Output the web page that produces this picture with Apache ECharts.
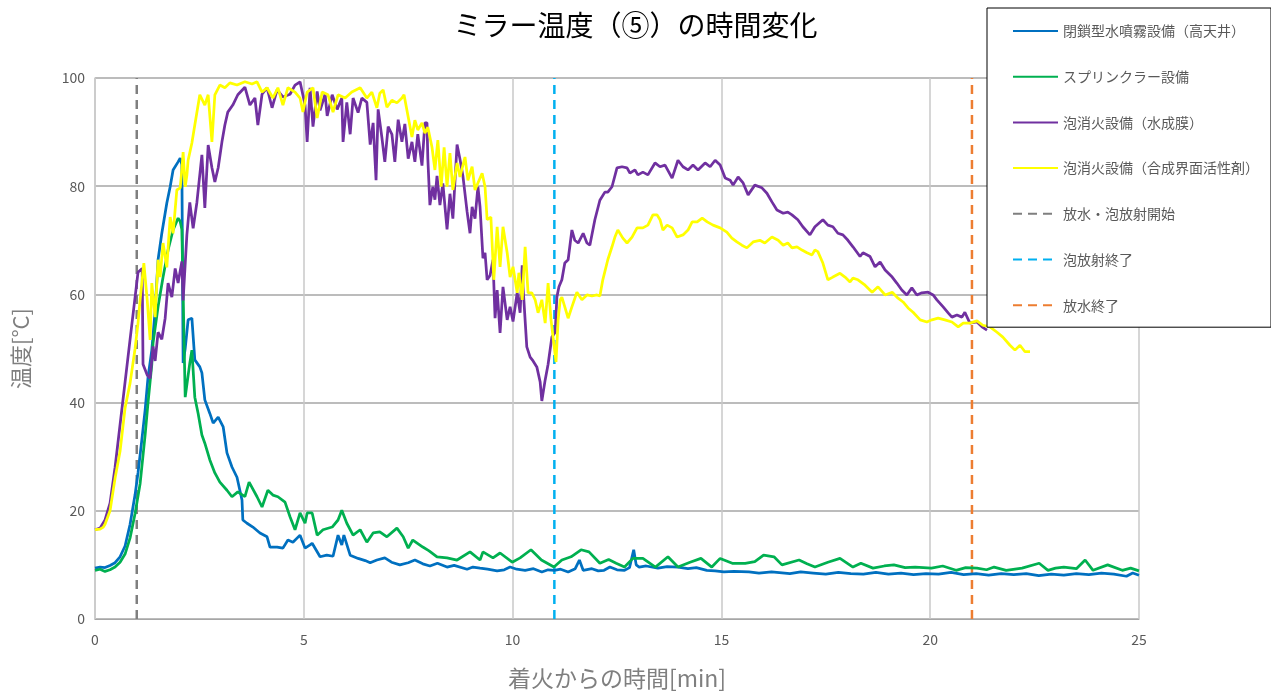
<!DOCTYPE html>
<html>
<head>
<meta charset="utf-8">
<script src="https://cdn.jsdelivr.net/npm/echarts@6/dist/echarts.min.js"></script>
<style>
  html, body { margin: 0; padding: 0; background: #fff; }
  #chart { width: 1271px; height: 693px; }
</style>
</head>
<body>
<div id="chart"></div>
<script>
// 経過時間[min] と 温度[℃] の組
const mistData = [
  [0,9.4],[0.12,9.6],[0.24,9.5],[0.36,9.9],[0.48,10.4],[0.6,11.5],[0.72,13.5],[0.84,17.5],[0.96,23],[1.03,27],
  [1.12,33],[1.2,38.6],[1.27,44.7],[1.36,49.7],[1.44,57],[1.51,66.4],[1.6,71.3],[1.72,76.9],[1.8,79.9],[1.87,83],
  [1.99,84.5],[2.04,85.2],[2.08,84],[2.11,47.3],[2.16,50],[2.23,55.3],[2.32,55.6],[2.39,47.9],[2.51,46.6],[2.56,45.5],
  [2.63,40.5],[2.75,38],[2.83,36.2],[2.95,37.3],[3.07,35.5],[3.16,30.7],[3.28,28.1],[3.4,26.2],[3.52,22],[3.54,18.3],
  [3.64,17.7],[3.78,17],[3.95,15.9],[4.12,15.2],[4.19,13.3],[4.36,13.3],[4.5,13.1],[4.62,14.6],[4.74,14.2],[4.91,15.5],
  [5.03,13.1],[5.15,13.7],[5.2,14],[5.39,11.5],[5.55,11.8],[5.7,11.6],[5.82,15.5],[5.91,13.7],[5.96,15.5],[6.11,11.8],
  [6.3,11.2],[6.47,10.8],[6.59,10.4],[6.75,10.9],[6.94,11.3],[7.1,10.5],[7.3,10],[7.5,10.4],[7.66,10.9],[7.85,10.2],
  [8.02,9.8],[8.2,10.3],[8.43,9.6],[8.6,9.9],[8.91,9.2],[9.05,9.6],[9.22,9.4],[9.4,9.2],[9.63,8.9],[9.8,9.1],
  [9.94,9.6],[10.1,9.2],[10.3,9],[10.5,9.3],[10.7,8.7],[10.85,9.1],[11.0,9],[11.15,9.2],[11.33,8.7],[11.5,9.3],
  [11.6,10.9],[11.69,9],[11.9,9.3],[12.05,8.9],[12.19,9],[12.33,9.6],[12.5,9.1],[12.68,9],[12.8,9.5],[12.9,12.8],
  [12.96,10],[13.03,9.6],[13.2,9.8],[13.48,9.4],[13.7,9.7],[13.96,9.6],[14.2,9.3],[14.4,9.5],[14.65,9],[14.85,8.9],
  [15.06,8.7],[15.3,8.8],[15.66,8.7],[15.9,8.5],[16.2,8.7],[16.64,8.4],[16.9,8.7],[17.2,8.5],[17.5,8.3],[17.8,8.6],
  [18.1,8.4],[18.4,8.3],[18.7,8.6],[19.0,8.3],[19.3,8.5],[19.6,8.2],[19.9,8.4],[20.2,8.3],[20.5,8.6],[20.8,8.2],
  [21.1,8.4],[21.4,8.1],[21.7,8.4],[22.0,8.2],[22.3,8.4],[22.6,8],[22.9,8.3],[23.2,8.1],[23.5,8.4],[23.8,8.2],
  [24.1,8.5],[24.4,8.3],[24.7,7.9],[24.85,8.5],[25,8.1]
];

const sprinklerData = [
  [0,9],[0.12,9.2],[0.24,8.8],[0.36,9.1],[0.48,9.6],[0.6,10.5],[0.72,12],[0.84,15],[0.96,19.5],[1.08,25],
  [1.2,34],[1.27,40],[1.36,47],[1.39,51],[1.51,57.7],[1.63,63.2],[1.75,68.2],[1.87,71.9],[1.99,74.1],[2.04,73.5],
  [2.08,72],[2.16,41],[2.27,47.3],[2.32,49.7],[2.39,41],[2.47,38],[2.56,34],[2.63,32.5],[2.75,29.4],[2.87,27],
  [2.99,25.3],[3.16,23.8],[3.28,22.6],[3.42,23.5],[3.59,22.6],[3.69,25.3],[3.88,22.6],[4.0,20.7],[4.14,23.8],[4.26,22.9],
  [4.38,22.6],[4.55,21.6],[4.67,18.9],[4.79,16.5],[4.91,19.6],[5.03,17.7],[5.08,19.6],[5.2,19.6],[5.32,15.5],[5.46,16.5],
  [5.68,17],[5.82,18.3],[5.91,20.1],[6.03,17.7],[6.18,15.5],[6.35,16.5],[6.51,14.2],[6.66,15.9],[6.82,16.1],[6.99,15.2],
  [7.23,16.8],[7.38,15.2],[7.5,13.1],[7.61,14.6],[7.85,13.3],[8.0,12.6],[8.19,11.5],[8.43,11.3],[8.67,10.9],[8.98,12.4],
  [9.22,10.9],[9.29,12.4],[9.53,11.3],[9.7,12.2],[9.99,10.5],[10.18,11.3],[10.44,12.8],[10.69,10.9],[10.99,9.6],[11.18,10.9],
  [11.4,11.5],[11.64,12.8],[11.83,12.4],[12.09,10.3],[12.3,11],[12.48,10.3],[12.68,9.6],[12.88,11.2],[13.12,11.2],[13.42,9.6],
  [13.72,11.5],[13.96,9.6],[14.25,10.5],[14.51,11.2],[14.77,9.6],[14.97,11.2],[15.26,10.3],[15.57,10.3],[15.8,10.6],[16.01,11.8],
  [16.26,11.5],[16.45,10],[16.86,10.9],[17.05,10.2],[17.24,9.6],[17.55,10.5],[17.84,11.2],[18.15,9.6],[18.34,10.3],[18.63,9.4],
  [18.9,9.8],[19.13,10],[19.4,9.5],[19.64,9.6],[20.03,9.4],[20.3,9.8],[20.62,9],[20.85,9.5],[21.12,9.4],[21.35,9.1],
  [21.53,9.6],[21.82,9],[22.2,9.4],[22.61,10.3],[22.82,9],[23.0,9.4],[23.2,9.6],[23.5,9.3],[23.71,10.9],[23.9,9],
  [24.25,10],[24.6,9],[24.8,9.4],[25,8.9]
];

const afffData = [
  [0,16.5],[0.12,16.8],[0.24,18.3],[0.36,21.4],[0.48,28],[0.6,35.9],[0.72,43.8],[0.84,51.7],[0.96,59.5],[1.03,64.1],
  [1.13,64.8],[1.15,47.1],[1.25,45.1],[1.32,44.5],[1.39,50.4],[1.44,47.7],[1.51,53],[1.6,51.7],[1.68,55.6],[1.75,62.1],
  [1.84,59.5],[1.92,64.8],[1.99,62.1],[2.08,66.1],[2.11,58.9],[2.2,71],[2.27,77],[2.35,72.2],[2.44,77],[2.56,85.8],
  [2.63,76],[2.71,87.6],[2.8,83.4],[2.87,80.8],[2.95,83.4],[3.04,88.2],[3.11,91.3],[3.18,93.7],[3.3,95],[3.42,96.9],
  [3.59,98.3],[3.71,95],[3.83,96.3],[3.9,91.3],[4.0,97],[4.12,98.2],[4.24,94.5],[4.36,97.8],[4.5,96.5],[4.67,97],
  [4.79,98.7],[4.91,99.3],[5.03,95],[5.08,88.2],[5.15,98.2],[5.22,91],[5.32,97.5],[5.39,94],[5.51,97],[5.56,93],
  [5.68,96.9],[5.8,94.2],[5.91,96.3],[5.94,88.2],[6.03,95.5],[6.11,89.6],[6.18,96.3],[6.3,93.6],[6.39,96.3],[6.51,95.5],
  [6.59,87.7],[6.66,91.7],[6.73,81.1],[6.78,94.2],[6.87,89],[6.94,84.5],[7.02,91],[7.11,89.6],[7.18,84.5],[7.26,92.3],
  [7.35,88.2],[7.42,91.5],[7.5,85.1],[7.59,88.2],[7.66,84.5],[7.73,89.6],[7.83,83.8],[7.9,91.7],[7.95,91.7],[7.97,85.1],
  [8.02,76.5],[8.09,79.9],[8.14,77.5],[8.19,81.9],[8.26,76.5],[8.33,80.5],[8.43,72],[8.5,78.6],[8.57,74],[8.67,87.7],
  [8.74,85],[8.81,81.9],[8.91,75.3],[8.98,71.3],[9.03,76.2],[9.1,74],[9.17,79.9],[9.22,76.2],[9.29,66.7],[9.34,67.7],
  [9.39,62.7],[9.46,63.5],[9.53,66.4],[9.58,55.6],[9.63,60.8],[9.7,52.9],[9.77,61.4],[9.87,55.3],[9.94,57.7],[10.01,55],
  [10.11,60.3],[10.18,56.6],[10.23,65.4],[10.25,61.4],[10.34,50.3],[10.42,48.4],[10.49,47.7],[10.58,46.6],[10.66,43.8],[10.7,40.3],
  [10.78,44.2],[10.85,47.1],[10.94,52.1],[11.02,53],[11.06,59.5],[11.11,61.4],[11.18,62.7],[11.25,65.8],[11.33,66.4],[11.42,71.9],
  [11.49,70],[11.57,69.5],[11.69,71.3],[11.78,69.5],[11.85,69.1],[11.97,73.8],[12.09,77.4],[12.21,78.9],[12.28,78.9],[12.38,79.9],
  [12.5,83.4],[12.62,83.6],[12.74,83.4],[12.81,82.4],[12.93,83],[13.0,82.1],[13.12,82.6],[13.24,82.1],[13.41,84.3],[13.53,83.6],
  [13.65,83.9],[13.82,81.5],[13.96,84.8],[14.08,83.6],[14.2,83],[14.32,83.9],[14.44,83],[14.61,84.3],[14.73,83.6],[14.85,84.8],
  [14.97,83.9],[15.09,81.5],[15.21,81.1],[15.28,80.2],[15.4,81.7],[15.52,80.6],[15.64,78.4],[15.8,80.2],[15.97,79.7],[16.09,78.7],
  [16.21,77.1],[16.33,75.6],[16.48,75],[16.59,75.2],[16.69,74.7],[16.83,73.8],[16.95,72.5],[17.12,71],[17.24,72.5],[17.43,73.8],
  [17.55,72.8],[17.67,72.5],[17.79,71.3],[17.91,71],[18.03,70],[18.15,68.8],[18.32,67],[18.39,67.7],[18.56,67],[18.68,65.1],
  [18.8,66],[18.92,64.5],[19.09,63.2],[19.2,62.1],[19.32,60.8],[19.44,59.9],[19.56,61.2],[19.68,59.9],[19.8,60.3],[19.95,60.4],
  [20.07,59.9],[20.16,59],[20.31,57.7],[20.43,56.6],[20.52,55.8],[20.64,56.2],[20.76,55.8],[20.83,56.7],[20.95,54.7],[21.12,54.9],
  [21.24,54],[21.36,53.4]
];

const surfactantData = [
  [0,16.5],[0.12,16.6],[0.2,17],[0.24,17.5],[0.36,20],[0.48,26],[0.6,31],[0.72,39],[0.84,43.6],[0.96,50],
  [1.03,54.7],[1.08,59],[1.17,65.8],[1.25,59],[1.32,51.6],[1.36,62.1],[1.44,55.8],[1.51,66.4],[1.56,63.2],[1.63,69.5],
  [1.72,65],[1.8,74.3],[1.87,71.3],[1.96,79.3],[2.04,79.7],[2.08,83],[2.11,86.3],[2.16,79.9],[2.2,82],[2.23,84.8],
  [2.32,88],[2.39,91.3],[2.51,96.9],[2.63,95],[2.71,96.9],[2.8,88.2],[2.87,96.9],[2.99,98.7],[3.11,98.2],[3.23,99.1],
  [3.4,98.7],[3.59,99.3],[3.76,98.9],[3.88,99.3],[4.0,97.4],[4.12,98.2],[4.26,96.3],[4.38,98.2],[4.5,95],[4.62,98.2],
  [4.79,97.4],[4.91,96.3],[4.98,93.7],[5.08,97.4],[5.22,98.2],[5.32,92.6],[5.44,97.4],[5.58,96.9],[5.7,93.7],[5.82,96.9],
  [5.99,96.3],[6.15,97.4],[6.35,98.2],[6.51,96.3],[6.63,97.4],[6.75,94.5],[6.82,97.2],[6.9,97.8],[6.99,94.6],[7.11,95.9],
  [7.23,95.4],[7.35,96.3],[7.4,96.9],[7.5,92.8],[7.59,89.1],[7.66,92.2],[7.73,90.4],[7.83,91.7],[7.9,89.8],[7.97,90.9],
  [8.07,87.2],[8.14,83],[8.21,88.5],[8.29,79.9],[8.36,87.2],[8.43,79.9],[8.5,86.1],[8.57,79.3],[8.67,84.3],[8.74,81.7],
  [8.86,85.4],[8.93,81.1],[9.03,83.6],[9.1,79.3],[9.17,80.6],[9.27,82.4],[9.34,79.9],[9.39,73.8],[9.48,74.3],[9.55,62.7],
  [9.63,72.5],[9.7,65.1],[9.77,72.5],[9.87,67.7],[9.94,63.2],[10.01,65.1],[10.11,60.3],[10.15,64],[10.23,59],[10.3,68.8],
  [10.37,60.3],[10.46,60.3],[10.54,59],[10.61,56.6],[10.7,59],[10.78,54.7],[10.85,62.1],[10.92,55.3],[10.97,52],[11.04,47.5],
  [11.09,55.3],[11.14,59],[11.18,59.5],[11.25,57.7],[11.33,55.6],[11.42,57.7],[11.54,60.4],[11.66,59],[11.78,59.9],[11.9,59.7],
  [12.02,59.9],[12.09,59.7],[12.16,62.7],[12.28,66.4],[12.38,68.8],[12.45,70.6],[12.52,71.9],[12.64,70.4],[12.74,69.5],[12.86,70.6],
  [12.98,72.3],[13.12,72.3],[13.24,72.8],[13.36,74.7],[13.46,74.7],[13.53,73.8],[13.6,71.9],[13.7,72.8],[13.82,72.3],[13.94,70.6],
  [14.08,71],[14.2,71.9],[14.3,73.4],[14.42,73.4],[14.54,74.1],[14.66,73.4],[14.8,72.8],[14.97,72.3],[15.13,71.5],[15.25,70.4],
  [15.37,69.7],[15.49,69.1],[15.61,68.6],[15.76,69.7],[15.92,70],[16.04,69.5],[16.21,70.6],[16.36,70],[16.48,69.1],[16.59,69.5],
  [16.69,68.6],[16.81,68.8],[16.93,68.2],[17.05,67.7],[17.17,67.3],[17.24,68.2],[17.31,67.9],[17.43,65.8],[17.55,62.7],[17.67,63.2],
  [17.84,63.9],[17.96,63.2],[18.08,62.3],[18.15,63],[18.27,62.7],[18.44,61.7],[18.61,60.4],[18.75,61.4],[18.92,59.9],[19.09,60.4],
  [19.23,59.3],[19.35,58.6],[19.47,57.5],[19.59,56.7],[19.76,55.3],[19.92,54.9],[20.04,55.3],[20.19,55.6],[20.35,55.3],[20.52,54.9],
  [20.67,54],[20.79,54.7],[20.95,54.7],[21.12,55.1],[21.26,54.3],[21.43,54],[21.6,53],[21.74,52.1],[21.91,50.6],[22.03,49.7],
  [22.15,50.6],[22.27,49.4],[22.39,49.4]
];

// 放水・泡放射のイベント時刻 [min]
const eventNames = ['放水・泡放射開始', '泡放射終了', '放水終了'];
const eventTimes = [1, 11, 21];
const eventColors = ['#7f7f7f', '#00b0f0', '#ed7d31'];

const seriesNames = ['閉鎖型水噴霧設備（高天井）', 'スプリンクラー設備', '泡消火設備（水成膜）', '泡消火設備（合成界面活性剤）'];
const seriesColors = ['#0070c0', '#00b050', '#7030a0', '#ffff00'];
const seriesData = [mistData, sprinklerData, afffData, surfactantData];

const yTicks = { min: 0, max: 100, interval: 20 };
const xTicks = { min: 0, max: 25, interval: 5 };

const font = '"Noto Sans CJK JP", "Noto Sans", sans-serif';
const chart = echarts.init(document.getElementById('chart'));

let series = seriesData.map((d, i) => ({
  name: seriesNames[i],
  type: 'line',
  data: d,
  symbol: 'none',
  lineStyle: { color: seriesColors[i], width: 2.75 },
  itemStyle: { color: seriesColors[i] },
  animation: false,
  z: 3 + i
}));

eventTimes.forEach((t, i) => {
  series.push({
    name: eventNames[i],
    type: 'line',
    data: [[t, yTicks.min], [t, yTicks.max]],
    symbol: 'none',
    lineStyle: { color: eventColors[i], width: 2.5, type: [9, 6] },
    itemStyle: { color: eventColors[i] },
    animation: false,
    z: 2
  });
});

const option = {
  backgroundColor: '#fff',
  textStyle: { fontFamily: font },
  title: {
    text: 'ミラー温度（⑤）の時間変化',
    left: 'center',
    top: 6,
    textStyle: { fontFamily: font, fontSize: 28, fontWeight: 'normal', color: '#000' }
  },
  legend: {
    orient: 'vertical',
    left: 987,
    top: 8,
    padding: [16, 12, 15, 25],
    itemGap: 31.7,
    itemWidth: 45,
    itemHeight: 14,
    backgroundColor: '#fff',
    borderColor: '#000',
    borderWidth: 1,
    itemStyle: { opacity: 0 },
    data: seriesNames.concat(eventNames),
    textStyle: { fontFamily: font, fontSize: 14, color: '#595959' },
    z: 10
  },
  grid: { left: 95, right: 132, top: 78, bottom: 74, outerBoundsMode: 'none', containLabel: false },
  xAxis: {
    type: 'value',
    min: xTicks.min,
    max: xTicks.max,
    interval: xTicks.interval,
    name: '着火からの時間[min]',
    nameLocation: 'middle',
    nameGap: 48,
    nameTextStyle: { fontFamily: font, fontSize: 23, color: '#7f7f7f' },
    axisLine: { show: true, lineStyle: { color: '#a6a6a6', width: 1 } },
    axisTick: { show: false },
    axisLabel: { fontFamily: font, fontSize: 14, color: '#595959', margin: 14 },
    splitLine: { show: true, lineStyle: { color: '#c8c8c8', width: 1.5 } }
  },
  yAxis: {
    type: 'value',
    min: yTicks.min,
    max: yTicks.max,
    interval: yTicks.interval,
    name: '温度[°C]',
    nameLocation: 'middle',
    nameGap: 63,
    nameRotate: 90,
    nameTextStyle: { fontFamily: font, fontSize: 22, color: '#7f7f7f' },
    axisLine: { show: true, lineStyle: { color: '#c8c8c8', width: 1.5 } },
    axisTick: { show: false },
    axisLabel: { fontFamily: font, fontSize: 14, color: '#595959', margin: 10 },
    splitLine: { show: true, lineStyle: { color: '#a6a6a6', width: 1.5 } }
  },
  series: series
};

chart.setOption(option);
</script>
</body>
</html>
